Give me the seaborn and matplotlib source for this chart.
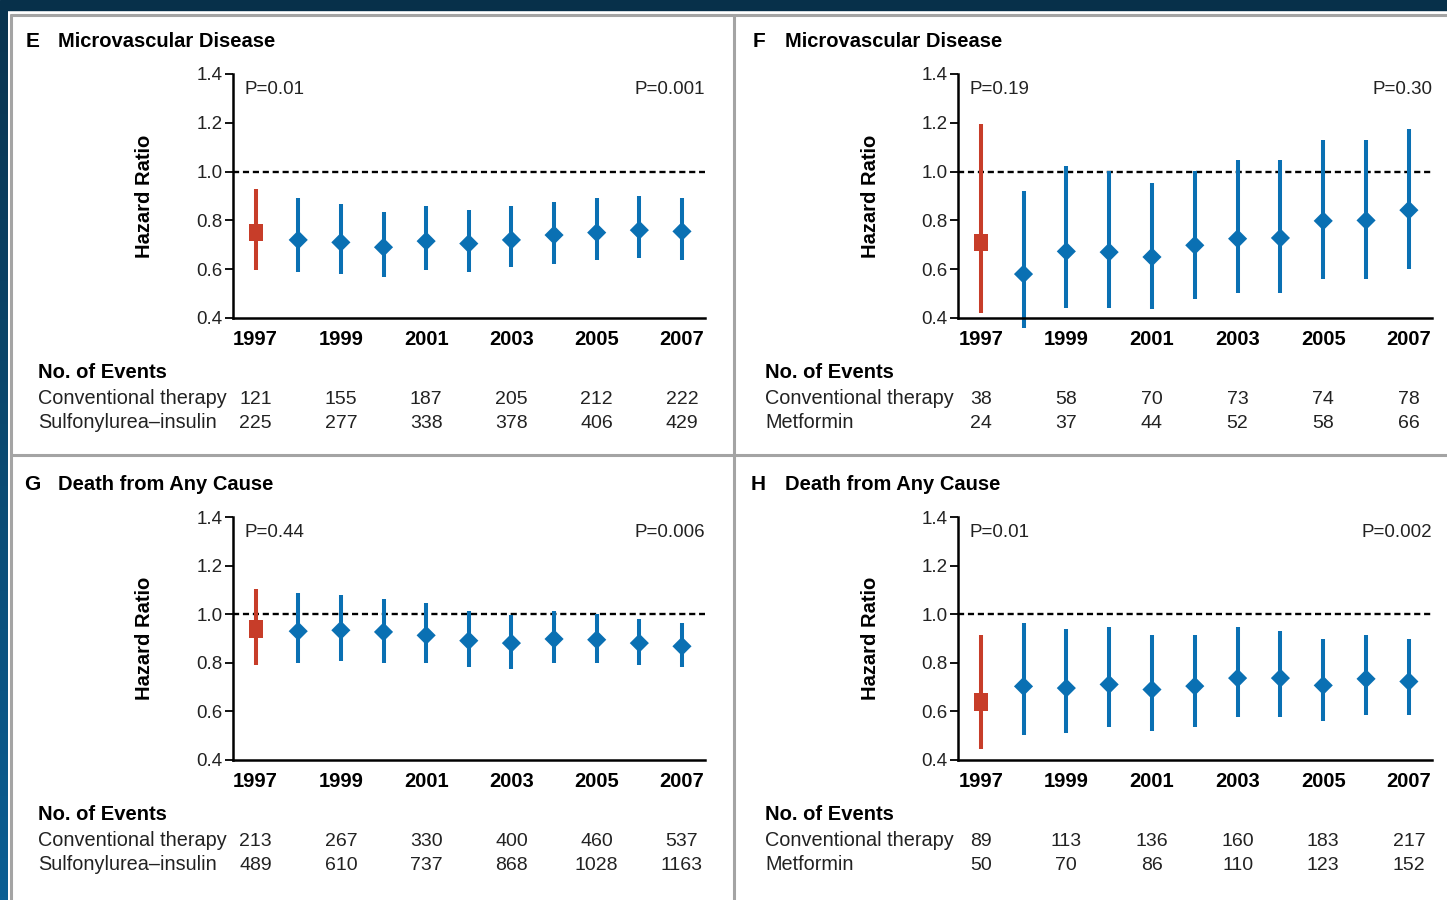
import numpy as np
import pandas as pd
import matplotlib
matplotlib.use("Agg")
import matplotlib.pyplot as plt
import matplotlib.transforms as mtransforms
from matplotlib.lines import Line2D
from matplotlib.patches import Rectangle
from matplotlib.path import Path
from matplotlib.colors import LinearSegmentedColormap
from matplotlib import font_manager as fm
import seaborn as sns

# ---------------- data ----------------
years = list(range(1997, 2008))
tick_years = [1997, 1999, 2001, 2003, 2005, 2007]

# Panel E: Microvascular disease, sulfonylurea-insulin vs conventional
e_hr = [0.75, 0.72, 0.71, 0.69, 0.715, 0.705, 0.72, 0.74, 0.75, 0.76, 0.755]
e_lo = [0.595, 0.59, 0.58, 0.57, 0.595, 0.587, 0.61, 0.62, 0.636, 0.645, 0.636]
e_hi = [0.93, 0.89, 0.867, 0.834, 0.859, 0.842, 0.859, 0.874, 0.89, 0.90, 0.89]
e_p = ["P=0.01", "P=0.001"]
e_conv = [121, 155, 187, 205, 212, 222]
e_trt = [225, 277, 338, 378, 406, 429]

# Panel F: Microvascular disease, metformin vs conventional
f_hr = [0.71, 0.58, 0.673, 0.67, 0.65, 0.698, 0.725, 0.728, 0.798, 0.80, 0.842]
f_lo = [0.42, 0.36, 0.443, 0.443, 0.436, 0.477, 0.502, 0.502, 0.56, 0.56, 0.60]
f_hi = [1.196, 0.922, 1.021, 1.003, 0.955, 1.003, 1.049, 1.049, 1.131, 1.131, 1.173]
f_p = ["P=0.19", "P=0.30"]
f_conv = [38, 58, 70, 73, 74, 78]
f_trt = [24, 37, 44, 52, 58, 66]

# Panel G: Death from any cause, sulfonylurea-insulin vs conventional
g_hr = [0.94, 0.93, 0.934, 0.927, 0.913, 0.891, 0.881, 0.898, 0.895, 0.881, 0.868]
g_lo = [0.792, 0.80, 0.807, 0.80, 0.80, 0.782, 0.776, 0.80, 0.80, 0.792, 0.782]
g_hi = [1.103, 1.089, 1.081, 1.064, 1.046, 1.013, 0.998, 1.015, 1.002, 0.982, 0.964]
g_p = ["P=0.44", "P=0.006"]
g_conv = [213, 267, 330, 400, 460, 537]
g_trt = [489, 610, 737, 868, 1028, 1163]

# Panel H: Death from any cause, metformin vs conventional
h_hr = [0.638, 0.703, 0.696, 0.711, 0.69, 0.704, 0.737, 0.737, 0.707, 0.734, 0.723]
h_lo = [0.445, 0.503, 0.511, 0.535, 0.52, 0.535, 0.576, 0.576, 0.56, 0.586, 0.586]
h_hi = [0.913, 0.964, 0.941, 0.947, 0.913, 0.913, 0.947, 0.931, 0.899, 0.913, 0.899]
h_p = ["P=0.01", "P=0.002"]
h_conv = [89, 113, 136, 160, 183, 217]
h_trt = [50, 70, 86, 110, 123, 152]

y_ticks = [0.4, 0.6, 0.8, 1.0, 1.2, 1.4]
y_ticklabels = ["0.4", "0.6", "0.8", "1.0", "1.2", "1.4"]

# ---------------- style ----------------
sns.set_theme(style="white")
names = {f.name for f in fm.fontManager.ttflist}
FONT = "Liberation Sans Narrow" if "Liberation Sans Narrow" in names else "Liberation Sans"
plt.rcParams["font.family"] = [FONT, "DejaVu Sans"]

BLUE = "#0a70b3"
RED = "#c73d29"
GRAY = "#a4a4a4"
TXT = "#222222"

W, H = 1447, 900
fig = plt.figure(figsize=(W / 100, H / 100), dpi=100)
fig.patch.set_facecolor("white")


def fx(x):
    return x / W


def fy(y):
    return 1 - y / H


# frame decorations
fig.add_artist(Rectangle((0, fy(10)), 1, 10 / H, transform=fig.transFigure,
                         color="#07304a", zorder=0))
band = fig.add_axes([0, 0, 7 / W, fy(10)])
grad = np.linspace(0, 1, 256).reshape(-1, 1)
cmap = LinearSegmentedColormap.from_list("band", ["#08344f", "#0a5f94"])
band.imshow(grad, aspect="auto", cmap=cmap)
band.set_axis_off()

for (x0, y0, x1, y1) in [(11, 15, W, 15), (11, 15, 11, H), (734, 15, 734, H), (11, 455, W, 455)]:
    fig.add_artist(Line2D([fx(x0), fx(x1)], [fy(y0), fy(y1)], transform=fig.transFigure,
                          color=GRAY, lw=2.2, zorder=1))

rect_marker = Path([(-0.4, -0.5), (0.4, -0.5), (0.4, 0.5), (-0.4, 0.5), (-0.4, -0.5)], closed=True)


def panel(ax_px, letter, title, letter_x, title_x, title_y, hr, lo, hi, pvals,
          conv, trt, trt_label, table_x, table_y, hr_label_x):
    left, top, right, bottom = ax_px
    ax = fig.add_axes([fx(left), fy(bottom), fx(right - left), (bottom - top) / H])
    ax.set_facecolor("none")
    df = pd.DataFrame({
        "year": years,
        "hr": hr,
        "group": ["base"] + ["follow"] * (len(years) - 1),
    })
    colors = [RED] + [BLUE] * (len(years) - 1)
    ax.axhline(1.0, color="black", lw=1.7, ls=(0, (2.6, 1.6)), zorder=1)
    ax.vlines(years, lo, hi, colors=colors, lw=2.9, zorder=2, clip_on=False)
    sns.scatterplot(data=df, x="year", y="hr", hue="group", style="group",
                    palette={"base": RED, "follow": BLUE},
                    markers={"base": rect_marker, "follow": "D"},
                    s=95, linewidth=0, legend=False, ax=ax, zorder=3)
    coll = ax.collections[-1]
    coll.set_sizes(np.array([160.0] + [95.0] * (len(years) - 1)))

    ax.set_xlim(1996.47, 2007.54)
    ax.set_ylim(0.4, 1.4)
    ax.set_yticks(y_ticks)
    ax.set_yticklabels(y_ticklabels)
    ax.set_xticks(tick_years)
    ax.set_xticklabels([str(y) for y in tick_years])
    ax.set_xlabel("")
    ax.set_ylabel("")
    for s in ["top", "right"]:
        ax.spines[s].set_visible(False)
    for s in ["left", "bottom"]:
        ax.spines[s].set_color("black")
        ax.spines[s].set_linewidth(1.8)
    ax.tick_params(axis="y", length=6, width=1.3, color="black", direction="out",
                   pad=1.5, labelsize=13.5, labelcolor=TXT, left=True)
    ax.tick_params(axis="x", length=0, pad=8.5, labelsize=14.5, labelcolor="black")
    for t in ax.get_xticklabels():
        t.set_fontweight("bold")
    ax.grid(False)

    ax.text(0.024, 0.935, pvals[0], transform=ax.transAxes, ha="left", va="center",
            fontsize=13.5, color=TXT)
    ax.text(1.0, 0.935, pvals[1], transform=ax.transAxes, ha="right", va="center",
            fontsize=13.5, color=TXT)

    # titles
    fig.text(fx(letter_x), fy(title_y + 7), letter, ha="left", va="baseline",
             fontsize=15, fontweight="bold", color="black")
    fig.text(fx(title_x), fy(title_y + 7), title, ha="left", va="baseline",
             fontsize=14.5, fontweight="bold", color="black")
    fig.text(fx(hr_label_x), fy((top + bottom) / 2), "Hazard Ratio", rotation=90,
             ha="center", va="center", fontsize=14.5, fontweight="bold", color="black")

    # table (baseline aligned)
    fig.text(fx(table_x), fy(table_y + 7), "No. of Events", ha="left", va="baseline",
             fontsize=14.5, fontweight="bold", color="black")
    row1, row2 = table_y + 33, table_y + 57
    fig.text(fx(table_x), fy(row1), "Conventional therapy", ha="left", va="baseline",
             fontsize=14.3, color=TXT)
    fig.text(fx(table_x), fy(row2), trt_label, ha="left", va="baseline",
             fontsize=14.3, color=TXT)
    tr = mtransforms.blended_transform_factory(ax.transData, fig.transFigure)
    for yr, c, t in zip(tick_years, conv, trt):
        ax.text(yr, fy(row1), str(c), transform=tr, ha="center", va="baseline",
                fontsize=14, color=TXT, clip_on=False)
        ax.text(yr, fy(row2), str(t), transform=tr, ha="center", va="baseline",
                fontsize=14, color=TXT, clip_on=False)
    return ax


panel((233, 74, 705, 318), "E", "Microvascular Disease", 26, 58, 40,
      e_hr, e_lo, e_hi, e_p, e_conv, e_trt, "Sulfonylurea\u2013insulin", 38, 371, 145)
panel((958, 74, 1432, 318), "F", "Microvascular Disease", 753, 785, 40,
      f_hr, f_lo, f_hi, f_p, f_conv, f_trt, "Metformin", 765, 371, 870)
panel((233, 517, 705, 760), "G", "Death from Any Cause", 24, 58, 483,
      g_hr, g_lo, g_hi, g_p, g_conv, g_trt, "Sulfonylurea\u2013insulin", 38, 813, 145)
panel((958, 517, 1432, 760), "H", "Death from Any Cause", 751, 785, 483,
      h_hr, h_lo, h_hi, h_p, h_conv, h_trt, "Metformin", 765, 813, 870)

fig.savefig("out.png", dpi=100, facecolor="white")
